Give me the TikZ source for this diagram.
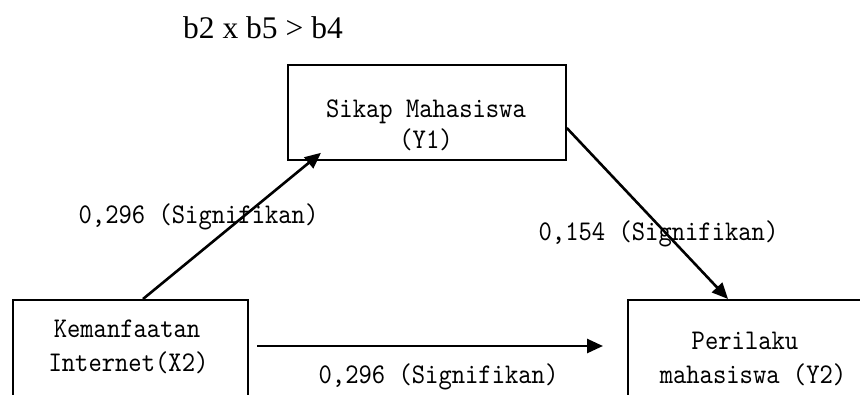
\documentclass[tikz,border=0pt]{standalone}
\usepackage{fontspec}
\newfontfamily\titlefont{Liberation Serif}
\newfontfamily\monofont[FakeStretch=0.89]{lmmono10-regular.otf}
\usetikzlibrary{arrows.meta,calc}

\tikzset{
  varbox/.style={draw=black, line width=1.8pt, rectangle, inner sep=0pt,
    anchor=north west},
  boxtext/.style={font=\monofont\fontsize{28.5}{32}\selectfont, inner sep=0pt,
    anchor=base},
  coef/.style={font=\monofont\fontsize{28.5}{32}\selectfont, inner sep=0pt,
    anchor=base},
  path/.style={draw=black, line width=2.6pt,
    -{Triangle[length=16pt,width=14pt]}},
}

\begin{document}
\begin{tikzpicture}[x=1pt,y=1pt]
  \useasboundingbox (0,0) rectangle (860,-394);
  \clip (0,0) rectangle (860,-394);

  % condition on the coefficients
  \node[inner sep=0pt, anchor=base, font=\titlefont\fontsize{31.5}{36}\selectfont]
    (cond) at (263,-38) {b2 x b5 > b4};

  % variables
  \node[varbox, minimum width=278, minimum height=95] (ybox) at (287,-64) {};
  \node[varbox, minimum width=235, minimum height=130] (xbox) at (12,-299) {};
  \node[varbox, minimum width=252, minimum height=130] (zbox) at (627,-299) {};

  \node[boxtext] (y1a) at (426,-117) {Sikap Mahasiswa};
  \node[boxtext] (y1b) at (426,-148) {(Y1)};
  \node[boxtext] (x2a) at (127,-337) {Kemanfaatan};
  \node[boxtext] (x2b) at (128.5,-371) {Internet(X2)};
  \node[boxtext] (y2a) at (745,-349) {Perilaku};
  \node[boxtext] (y2b) at (753,-383) {mahasiswa (Y2)};

  % paths
  \draw[path] ($(xbox.north west)+(131,0)$) -- ($(ybox.south west)+(34,8)$);
  \draw[path] ($(ybox.north east)+(0,-64)$) -- ($(zbox.north west)+(101,0)$);
  \draw[path] ($(xbox.north west)+(245,-47)$) -- ($(zbox.north west)+(-24,-47)$);

  % path coefficients
  \node[coef] (c1) at (198.5,-223) {0,296 (Signifikan)};
  \node[coef] (c2) at (658.5,-240) {0,154 (Signifikan)};
  \node[coef] (c3) at (438.5,-383) {0,296 (Signifikan)};
\end{tikzpicture}
\end{document}
